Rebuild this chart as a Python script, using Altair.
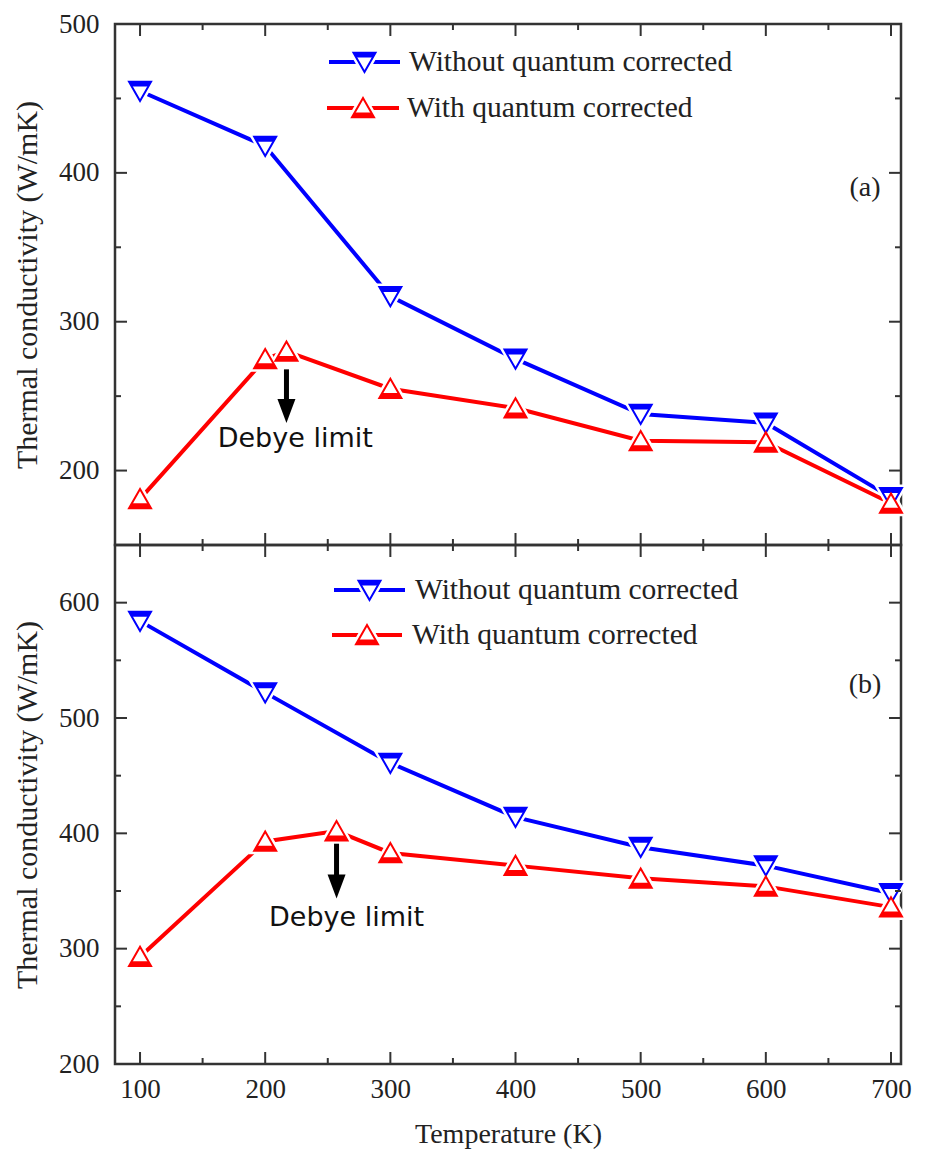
import altair as alt
import pandas as pd

# ---------------- data ----------------
T = [100, 200, 300, 400, 500, 600, 700]
a_without = [455, 418, 317, 275, 238, 232, 182]
a_with_T = [100, 200, 217, 300, 400, 500, 600, 700]
a_with = [181, 275, 280, 255, 242, 220, 219, 178]

b_without = [584, 522, 461, 414, 388, 372, 348]
b_with_T = [100, 200, 257, 300, 400, 500, 600, 700]
b_with = [293, 393, 402, 383, 372, 361, 354, 336]

series_names = ["Without quantum corrected", "With quantum corrected"]
panel_labels = ["(a)", "(b)"]

x_major = [100, 200, 300, 400, 500, 600, 700]
x_minor = [150, 250, 350, 450, 550, 650]
a_y_major = [200, 300, 400, 500]
a_y_minor = [250, 350, 450]
b_y_major = [200, 300, 400, 500, 600]
b_y_minor = [250, 350, 450, 550]

# Debye-limit annotations (data coordinates)
a_arrow_T = [217]
a_arrow_y = [268, 244]   # shaft top, shaft bottom
a_head_y = [240]
a_text_pos = [224, 221]
b_arrow_T = [257]
b_arrow_y = [391, 358]
b_head_y = [354]
b_text_pos = [265, 327]

XDOM = [80, 708]
A_YDOM = [150, 500]
B_YDOM = [200, 650]
W = 786
H_A = 521
H_B = 519

BLUE = "#0000ff"
RED = "#ff0000"
SERIF = "Liberation Serif"
SANS = "DejaVu Sans"

DOWN = "M-1,-0.85L1,-0.85L0,0.9Z"
DOWN_BAND = "M-1,-0.85L1,-0.85L0.74,-0.4L-0.74,-0.4Z"
UP = "M-1,0.85L1,0.85L0,-0.9Z"
UP_BAND = "M-1,0.85L1,0.85L0.74,0.4L-0.74,0.4Z"
HEAD = "M-0.75,-1L0.75,-1L0,1Z"
MSIZE = 484

dummy = pd.DataFrame({"d": [0]})


def panel(without, with_T, with_v, ydom, h, y_major, y_minor, xaxis, lab, lab_y,
          arrow_T, arrow_y, head_y, text_pos, legend_pos):
    xs = alt.Scale(domain=XDOM, nice=False, zero=False)
    ys = alt.Scale(domain=ydom, nice=False, zero=False)
    yaxis = alt.Axis(values=y_major, ticks=False, domain=False, grid=False,
                     labelPadding=16, format="d", titleFontSize=30,
                     title="Thermal conductivity (W/mK)", titlePadding=16)

    def X(axis=xaxis):
        return alt.X("T:Q", scale=xs, axis=axis)

    def Y(axis=yaxis):
        return alt.Y("v:Q", scale=ys, axis=axis)

    dw = pd.DataFrame({"T": T, "v": without})
    dr = pd.DataFrame({"T": with_T, "v": with_v})

    layers = []
    layers.append(alt.Chart(dw).mark_line(color=BLUE, strokeWidth=4).encode(x=X(), y=Y()))
    layers.append(alt.Chart(dr).mark_line(color=RED, strokeWidth=4).encode(x=X(), y=Y()))
    for d, shape, band, col in [(dw, DOWN, DOWN_BAND, BLUE), (dr, UP, UP_BAND, RED)]:
        layers.append(alt.Chart(d).mark_point(shape=shape, size=MSIZE, filled=True, fill="white",
                                              stroke="white", strokeWidth=7, opacity=1)
                      .encode(x=X(), y=Y()))
    for d, shape, band, col in [(dw, DOWN, DOWN_BAND, BLUE), (dr, UP, UP_BAND, RED)]:
        layers.append(alt.Chart(d).mark_point(shape=shape, size=MSIZE, filled=True, fill="white",
                                              stroke=col, strokeWidth=2, opacity=1)
                      .encode(x=X(), y=Y()))
        layers.append(alt.Chart(d).mark_point(shape=band, size=MSIZE, filled=True, color=col,
                                              strokeWidth=0, opacity=1)
                      .encode(x=X(), y=Y()))

    dxM = pd.DataFrame({"T": x_major})
    dxm = pd.DataFrame({"T": x_minor})
    for dd, L in [(dxM, 12), (dxm, 6)]:
        layers.append(alt.Chart(dd).mark_rule(color="#333", strokeWidth=2)
                      .encode(x=X(), y=alt.value(h), y2=alt.value(h - L)))
        layers.append(alt.Chart(dd).mark_rule(color="#333", strokeWidth=2)
                      .encode(x=X(), y=alt.value(0), y2=alt.value(L)))
    dyM = pd.DataFrame({"v": y_major})
    dym = pd.DataFrame({"v": y_minor})
    for dd, L in [(dyM, 12), (dym, 6)]:
        layers.append(alt.Chart(dd).mark_rule(color="#333", strokeWidth=2)
                      .encode(y=Y(), x=alt.value(0), x2=alt.value(L)))
        layers.append(alt.Chart(dd).mark_rule(color="#333", strokeWidth=2)
                      .encode(y=Y(), x=alt.value(W), x2=alt.value(W - L)))

    da = pd.DataFrame({"T": arrow_T, "v": [arrow_y[0]], "v2": [arrow_y[1]]})
    layers.append(alt.Chart(da).mark_rule(color="black", strokeWidth=5)
                  .encode(x=X(), y=Y(), y2="v2:Q"))
    dh = pd.DataFrame({"T": arrow_T, "v": head_y})
    layers.append(alt.Chart(dh).mark_point(shape=HEAD, size=576, filled=True, color="black", opacity=1)
                  .encode(x=X(), y=Y()))
    dt = pd.DataFrame({"T": [text_pos[0]], "v": [text_pos[1]]})
    layers.append(alt.Chart(dt).mark_text(text="Debye limit", font=SANS, fontSize=27,
                                          color="#111", align="center", baseline="middle")
                  .encode(x=X(), y=Y()))

    for i, (shape, band, col) in enumerate([(DOWN, DOWN_BAND, BLUE), (UP, UP_BAND, RED)]):
        lx0, lx1, ly, tx = legend_pos[i]
        mx = (lx0 + lx1) / 2
        layers.append(alt.Chart(dummy).mark_rule(color=col, strokeWidth=4)
                      .encode(x=alt.value(lx0), x2=alt.value(lx1), y=alt.value(ly)))
        layers.append(alt.Chart(dummy).mark_point(shape=shape, size=MSIZE, filled=True, fill="white",
                                                  stroke="white", strokeWidth=7, opacity=1)
                      .encode(x=alt.value(mx), y=alt.value(ly)))
        layers.append(alt.Chart(dummy).mark_point(shape=shape, size=MSIZE, filled=True, fill="white",
                                                  stroke=col, strokeWidth=2, opacity=1)
                      .encode(x=alt.value(mx), y=alt.value(ly)))
        layers.append(alt.Chart(dummy).mark_point(shape=band, size=MSIZE, filled=True, color=col,
                                                  opacity=1)
                      .encode(x=alt.value(mx), y=alt.value(ly)))
        layers.append(alt.Chart(dummy).mark_text(text=series_names[i], font=SERIF, fontSize=29.5,
                                                 color="#222", align="left", baseline="middle")
                      .encode(x=alt.value(tx), y=alt.value(ly)))

    layers.append(alt.Chart(dummy).mark_text(text=lab, font=SERIF, fontSize=28, color="#222",
                                             align="center", baseline="middle")
                  .encode(x=alt.value(750), y=alt.value(lab_y)))

    return alt.layer(*layers).properties(width=W, height=h)


top = panel(a_without, a_with_T, a_with, A_YDOM, H_A, a_y_major, a_y_minor, None, panel_labels[0], 164,
            a_arrow_T, a_arrow_y, a_head_y, a_text_pos,
            [(214, 285, 38, 294), (212, 284, 84, 292)])

xaxis_b = alt.Axis(values=x_major, ticks=False, domain=False, grid=False, labelPadding=12,
                   format="d", title="Temperature (K)", titlePadding=18)
bottom = panel(b_without, b_with_T, b_with, B_YDOM, H_B, b_y_major, b_y_minor, xaxis_b, panel_labels[1], 140,
               b_arrow_T, b_arrow_y, b_head_y, b_text_pos,
               [(219, 290, 45, 300), (217, 287, 90, 297)])

chart = (
    alt.vconcat(top, bottom, spacing=0, bounds="flush")
    .properties(padding={"left": 3, "top": 0, "right": 0, "bottom": 0})
    .configure_view(stroke="#333", strokeWidth=2.5)
    .configure_axis(labelFont=SERIF, labelFontSize=27, labelColor="#222",
                    titleFont=SERIF, titleFontSize=28, titleFontWeight="normal", titleColor="#222")
)

chart.save("out.html", embed_options={"renderer": "svg", "actions": False})
